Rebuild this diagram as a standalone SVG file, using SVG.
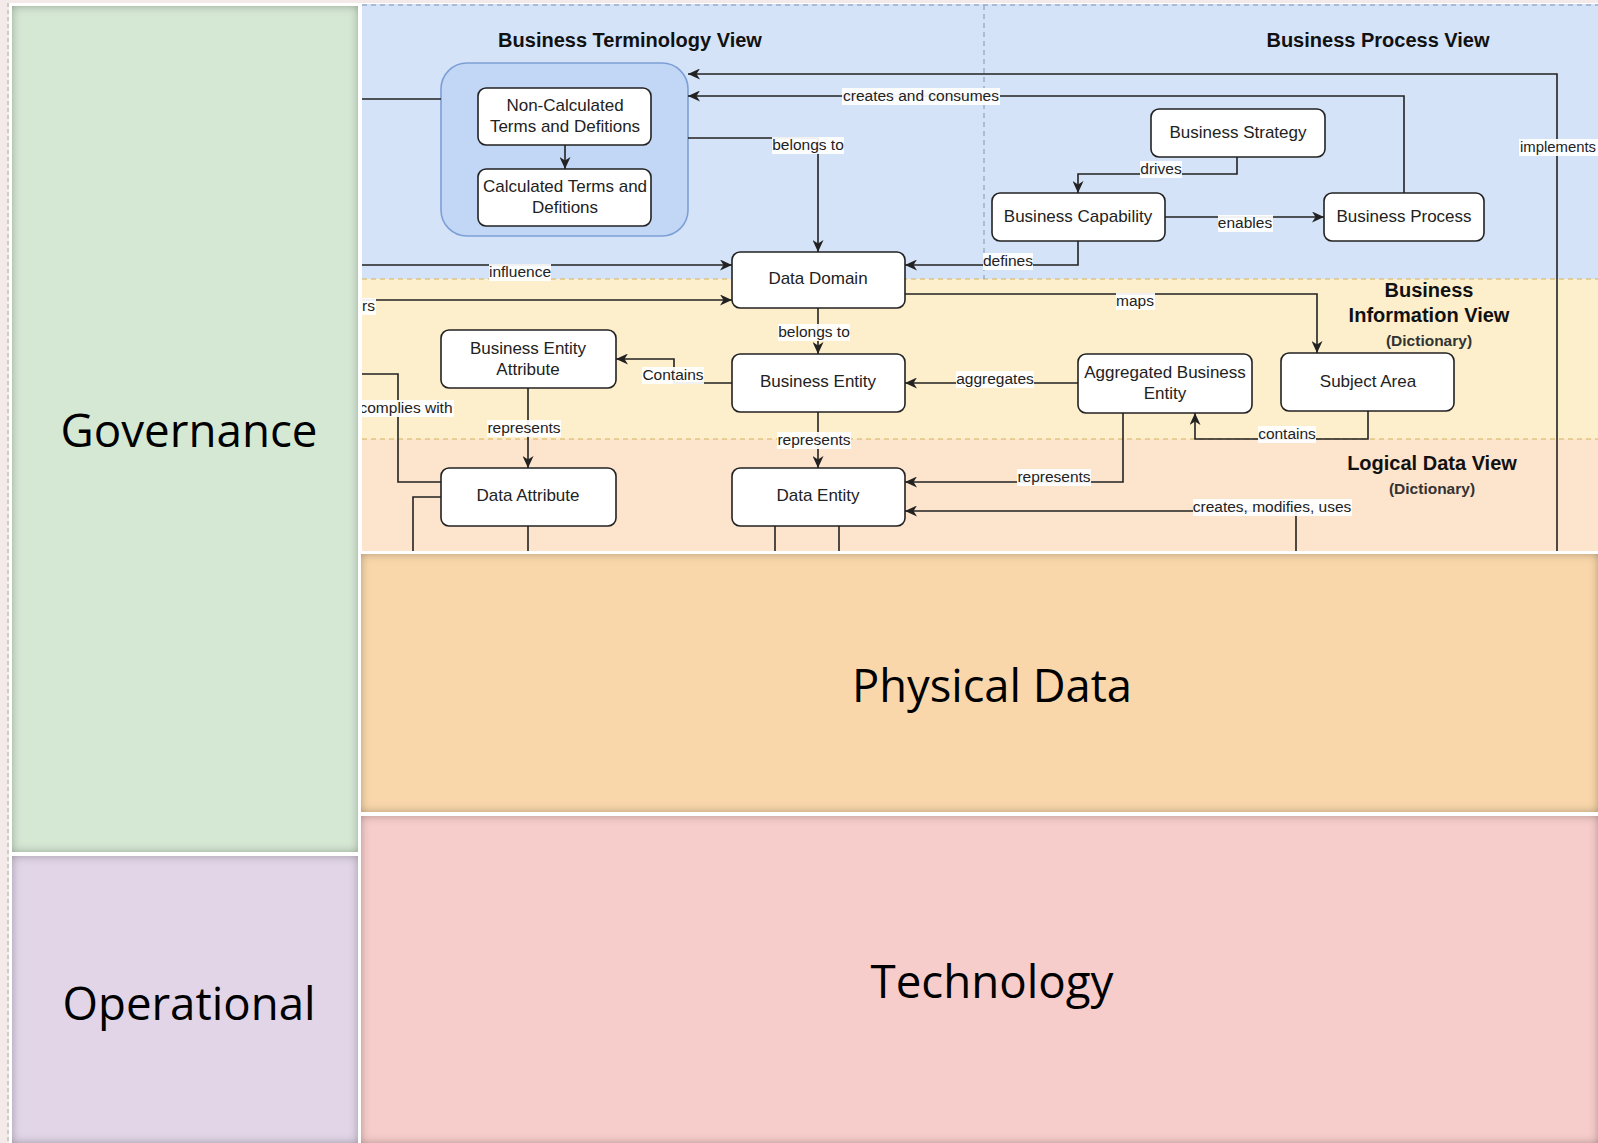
<svg xmlns="http://www.w3.org/2000/svg" width="1598" height="1143" viewBox="0 0 1598 1143">
<style>
.big{font-family:"Open Sans","Noto Sans",sans-serif;font-size:46px;fill:#000;text-anchor:middle}
.nbox{fill:#fff;stroke:#222;stroke-width:1.6}
.nt{font-family:"Liberation Sans",Arial,sans-serif;font-size:17px;fill:#222;text-anchor:middle}
.ttl{font-family:"Liberation Sans",Arial,sans-serif;font-size:20px;font-weight:bold;fill:#111;text-anchor:middle}
.sub{font-family:"Liberation Sans",Arial,sans-serif;font-size:15.5px;font-weight:bold;fill:#333;text-anchor:middle}
.edge{fill:none;stroke:#222;stroke-width:1.6}
.arr{marker-end:url(#ah)}
.el{font-family:"Liberation Sans",Arial,sans-serif;font-size:15.5px;fill:#222;text-anchor:middle}
.lb{fill:#fff;fill-opacity:0.92}
</style>
<defs>
<marker id="ah" markerUnits="userSpaceOnUse" markerWidth="13" markerHeight="11" refX="12" refY="5.5" orient="auto">
<path d="M0,0 L12,5.5 L0,11 L3.5,5.5 Z" fill="#222"/>
</marker>
<filter id="inner" x="-5%" y="-5%" width="110%" height="110%">
<feFlood flood-color="#000" flood-opacity="0.6" result="f"/>
<feComposite in="f" in2="SourceAlpha" operator="out" result="o"/>
<feGaussianBlur in="o" stdDeviation="5" result="b"/>
<feComposite in="b" in2="SourceAlpha" operator="in" result="s"/>
<feMerge><feMergeNode in="SourceGraphic"/><feMergeNode in="s"/></feMerge>
</filter>
<clipPath id="dclip"><rect x="362" y="4" width="1236" height="547"/></clipPath>
</defs>

<rect x="0" y="0" width="1598" height="1143" fill="#f5eaea"/>
<rect x="9" y="3" width="1589" height="1140" fill="#fff"/>
<line x1="8" y1="3" x2="8" y2="1143" stroke="#9bb39a" stroke-width="1" stroke-dasharray="4 3"/>

<g id="governance">
<rect x="12" y="6" width="346" height="846" fill="#d5e8d4" filter="url(#inner)"/>
<text class="big" x="189" y="447" textLength="257" lengthAdjust="spacingAndGlyphs">Governance</text>
</g>
<g id="operational">
<rect x="12" y="856" width="346" height="287" fill="#e1d5e7" filter="url(#inner)"/>
<text class="big" x="189" y="1020" textLength="253" lengthAdjust="spacingAndGlyphs">Operational</text>
</g>
<g id="physical-data">
<rect x="361" y="554" width="1237" height="258" fill="#f9d7aa" filter="url(#inner)"/>
<text class="big" x="992" y="702" textLength="280" lengthAdjust="spacingAndGlyphs">Physical Data</text>
</g>
<g id="technology">
<rect x="361" y="816" width="1237" height="327" fill="#f7cdcb" filter="url(#inner)"/>
<text class="big" x="992" y="998" textLength="243" lengthAdjust="spacingAndGlyphs">Technology</text>
</g>

<g id="diagram" clip-path="url(#dclip)">
<g id="bands">
<rect x="362" y="4" width="1236" height="275" fill="#d4e3f7"/>
<rect x="362" y="279" width="1236" height="160" fill="#fdefcb"/>
<rect x="362" y="439" width="1236" height="112" fill="#fde4cc"/>
<line x1="362" y1="5" x2="1598" y2="5" stroke="#7f95b5" stroke-width="1" stroke-dasharray="5 4"/>
<line x1="362" y1="279" x2="1598" y2="279" stroke="#d4b25c" stroke-width="1" stroke-dasharray="5 4"/>
<line x1="362" y1="439" x2="1598" y2="439" stroke="#d4b25c" stroke-width="1" stroke-dasharray="5 4"/>
<line x1="984" y1="5" x2="984" y2="279" stroke="#8097b8" stroke-width="1" stroke-dasharray="5 4"/>
</g>

<g id="titles">
<text class="ttl" x="630" y="47">Business Terminology View</text>
<text class="ttl" x="1378" y="47">Business Process View</text>
<text class="ttl" x="1429" y="297">Business</text>
<text class="ttl" x="1429" y="322">Information View</text>
<text class="sub" x="1429" y="346">(Dictionary)</text>
<text class="ttl" x="1432" y="470">Logical Data View</text>
<text class="sub" x="1432" y="494">(Dictionary)</text>
</g>

<g id="terminology-group">
<rect x="441" y="63" width="247" height="173" rx="26" fill="#c2d7f5" stroke="#7d9fd6" stroke-width="1.6"/>
</g>

<g id="connectors">
<path class="edge" d="M362,99 H441"/>
<path class="edge arr" d="M362,265 H732"/>
<path class="edge arr" d="M362,300 H732"/>
<path class="edge" d="M362,374 H398 V482 H441"/>
<path class="edge" d="M441,497 H413 V551"/>
<path class="edge" d="M528,526 V551"/>
<path class="edge" d="M775,526 V551"/>
<path class="edge" d="M839,526 V551"/>
<path class="edge arr" d="M1296,551 V511 H905"/>
<path class="edge arr" d="M1123,413 V482 H905"/>
<path class="edge arr" d="M1368,411 V439 H1195 V413"/>
<path class="edge arr" d="M1078,383 H905"/>
<path class="edge arr" d="M732,383 H674 V359 H616"/>
<path class="edge arr" d="M818,308 V354"/>
<path class="edge arr" d="M818,412 V468"/>
<path class="edge arr" d="M528,388 V468"/>
<path class="edge arr" d="M905,294 H1317 V353"/>
<path class="edge arr" d="M1078,241 V265 H905"/>
<path class="edge arr" d="M1165,217 H1324"/>
<path class="edge arr" d="M1237,157 V174 H1078 V193"/>
<path class="edge arr" d="M1404,193 V96 H688"/>
<path class="edge arr" d="M1557,551 V74 H688"/>
<path class="edge arr" d="M688,138 H818 V252"/>
<path class="edge arr" d="M565,145 V169"/>

<g id="edge-labels">
<rect class="lb" x="489" y="264" width="62" height="17"/><text class="el" x="520" y="277">influence</text>
<rect class="lb" x="362" y="298" width="14" height="17"/><text class="el" x="362" y="311" style="text-anchor:start">rs</text>
<rect class="lb" x="358" y="400" width="96" height="17"/><text class="el" x="406" y="413">complies with</text>
<rect class="lb" x="772" y="137" width="72" height="17"/><text class="el" x="808" y="150">belongs to</text>
<rect class="lb" x="842" y="88" width="158" height="17"/><text class="el" x="921" y="101">creates and consumes</text>
<rect class="lb" x="1140" y="161" width="42" height="17"/><text class="el" x="1161" y="174">drives</text>
<rect class="lb" x="1218" y="215" width="55" height="17"/><text class="el" x="1245" y="228">enables</text>
<rect class="lb" x="983" y="253" width="50" height="17"/><text class="el" x="1008" y="266">defines</text>
<rect class="lb" x="1519" y="139" width="79" height="17"/><text class="el" x="1520" y="152" style="text-anchor:start" textLength="76" lengthAdjust="spacingAndGlyphs">implements</text>
<rect class="lb" x="1116" y="293" width="39" height="17"/><text class="el" x="1135" y="306">maps</text>
<rect class="lb" x="778" y="324" width="72" height="17"/><text class="el" x="814" y="337">belongs to</text>
<rect class="lb" x="642" y="367" width="62" height="17"/><text class="el" x="673" y="380">Contains</text>
<rect class="lb" x="956" y="371" width="78" height="17"/><text class="el" x="995" y="384">aggregates</text>
<rect class="lb" x="487" y="420" width="74" height="17"/><text class="el" x="524" y="433">represents</text>
<rect class="lb" x="777" y="432" width="74" height="17"/><text class="el" x="814" y="445">represents</text>
<rect class="lb" x="1258" y="426" width="58" height="17"/><text class="el" x="1287" y="439">contains</text>
<rect class="lb" x="1017" y="469" width="74" height="17"/><text class="el" x="1054" y="482">represents</text>
<rect class="lb" x="1193" y="499" width="159" height="17"/><text class="el" x="1272" y="512">creates, modifies, uses</text>
</g>
</g>

<g id="non-calculated-terms">
<rect class="nbox" x="478" y="88" width="173" height="57" rx="8"/>
<text class="nt" x="565" y="111">Non-Calculated</text>
<text class="nt" x="565" y="132">Terms and Defitions</text>
</g>
<g id="calculated-terms">
<rect class="nbox" x="478" y="169" width="173" height="57" rx="8"/>
<text class="nt" x="565" y="192">Calculated Terms and</text>
<text class="nt" x="565" y="213">Defitions</text>
</g>
<g id="business-strategy">
<rect class="nbox" x="1151" y="109" width="174" height="48" rx="8"/>
<text class="nt" x="1238" y="138">Business Strategy</text>
</g>
<g id="business-capability">
<rect class="nbox" x="992" y="193" width="173" height="48" rx="8"/>
<text class="nt" x="1078" y="222">Business Capability</text>
</g>
<g id="business-process">
<rect class="nbox" x="1324" y="193" width="160" height="48" rx="8"/>
<text class="nt" x="1404" y="222">Business Process</text>
</g>
<g id="data-domain">
<rect class="nbox" x="732" y="252" width="173" height="56" rx="8"/>
<text class="nt" x="818" y="284">Data Domain</text>
</g>
<g id="business-entity-attribute">
<rect class="nbox" x="441" y="330" width="175" height="58" rx="8"/>
<text class="nt" x="528" y="354">Business Entity</text>
<text class="nt" x="528" y="375">Attribute</text>
</g>
<g id="business-entity">
<rect class="nbox" x="732" y="354" width="173" height="58" rx="8"/>
<text class="nt" x="818" y="387">Business Entity</text>
</g>
<g id="aggregated-business-entity">
<rect class="nbox" x="1078" y="354" width="174" height="59" rx="8"/>
<text class="nt" x="1165" y="378">Aggregated Business</text>
<text class="nt" x="1165" y="399">Entity</text>
</g>
<g id="subject-area">
<rect class="nbox" x="1281" y="353" width="173" height="58" rx="8"/>
<text class="nt" x="1368" y="387">Subject Area</text>
</g>
<g id="data-attribute">
<rect class="nbox" x="441" y="468" width="175" height="58" rx="8"/>
<text class="nt" x="528" y="501">Data Attribute</text>
</g>
<g id="data-entity">
<rect class="nbox" x="732" y="468" width="173" height="58" rx="8"/>
<text class="nt" x="818" y="501">Data Entity</text>
</g>
</g>
</svg>
